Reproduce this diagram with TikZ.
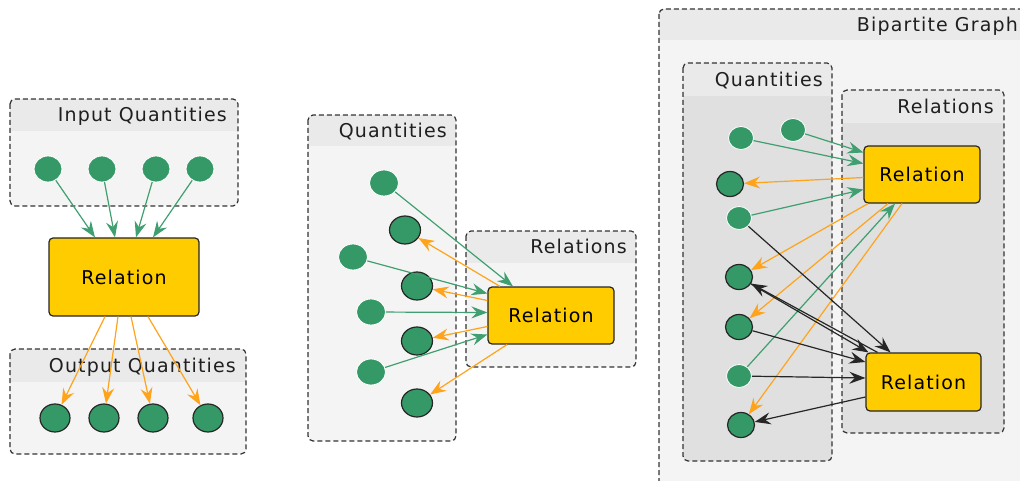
\documentclass[tikz,border=0pt]{standalone}
\usepackage{fontspec}
\setmainfont[LetterSpace=6]{DejaVu Sans}
\usetikzlibrary{arrows.meta,shapes.geometric}
\definecolor{qgreen}{HTML}{349966}
\definecolor{agreen}{HTML}{3F9F70}
\definecolor{aorange}{HTML}{FFA31A}
\definecolor{relfill}{HTML}{FFCC00}
\definecolor{outerbody}{HTML}{F4F4F4}
\definecolor{headerfill}{HTML}{EAEAEA}
\definecolor{innerbody}{HTML}{E0E0E0}
\tikzset{
  grpborder/.style={draw=black!80, line width=1.2pt, dash pattern=on 5pt off 3pt, rounded corners=5pt},
  grptitle/.style={anchor=base east, inner sep=0pt, text=black!88, font=\fontsize{19}{21}\selectfont},
  qin/.style={ellipse, fill=qgreen, draw=white, line width=0.8pt, inner sep=0pt, minimum width=28pt, minimum height=26pt},
  qout/.style={ellipse, fill=qgreen, draw=black!85, line width=1.2pt, inner sep=0pt, minimum width=30pt, minimum height=28pt},
  relbox/.style={rectangle, rounded corners=4pt, fill=relfill, draw=black!85, line width=1.2pt, font=\fontsize{19}{21}\selectfont, inner sep=0pt},
  arr/.style={-{Stealth[length=16pt,width=12pt,inset=5.5pt]}, line width=1.2pt},
  ga/.style={arr, draw=agreen},
  oa/.style={arr, draw=aorange},
  ba/.style={arr, draw=black!85},
}
\newcommand\grpbox[9]{%
  \begin{scope}
    \clip[rounded corners=5pt] (#2,#3) rectangle (#4,#5);
    \fill[#9] (#2,#3) rectangle (#4,#5);
    \fill[headerfill] (#2,#3) rectangle (#4,#6);
  \end{scope}
  \draw[grpborder] (#2,#3) rectangle (#4,#5);
  \node[grptitle] (#1) at ({#7},{(#3+#6)/2+7}) {#8};
}
\begin{document}
\begin{tikzpicture}[x=1pt,y=-1pt]
\useasboundingbox (0,0) rectangle (1020,481);
\clip (0,0) rectangle (1020,481);

% ---------- left group ----------
\grpbox{gin}{10}{99}{238}{206}{131}{227}{Input Quantities}{outerbody}
\grpbox{gout}{10}{349}{246}{454}{382}{236}{Output Quantities}{outerbody}
\node[qin] (i1) at (48,169) {};
\node[qin] (i2) at (102,169) {};
\node[qin] (i3) at (156,169) {};
\node[qin] (i4) at (200,169) {};
\node[relbox, minimum width=150pt, minimum height=78pt] (rl) at (124,277) {Relation};
\node[qout] (o1) at (55,418) {};
\node[qout] (o2) at (104,418) {};
\node[qout] (o3) at (153,418) {};
\node[qout] (o4) at (208,418) {};
\draw[ga] (i1) -- ([xshift=-29pt]rl.north);
\draw[ga] (i2) -- ([xshift=-9pt]rl.north);
\draw[ga] (i3) -- ([xshift=12pt]rl.north);
\draw[ga] (i4) -- ([xshift=29pt]rl.north);
\draw[oa] ([xshift=-19pt]rl.south) -- (o1);
\draw[oa] ([xshift=-6pt]rl.south) -- (o2);
\draw[oa] ([xshift=7pt]rl.south) -- (o3);
\draw[oa] ([xshift=24pt]rl.south) -- (o4);

% ---------- middle group ----------
\grpbox{gq}{308}{115}{456}{441}{146}{447}{Quantities}{outerbody}
\grpbox{gr}{466}{231}{636}{367}{263}{627}{Relations}{outerbody}
\node[relbox, minimum width=126pt, minimum height=57pt] (rm) at (551,315.5) {Relation};
\node[qin, minimum width=29pt] (mi1) at (384,183) {};
\node[qin, minimum width=29pt] (mi2) at (353,257) {};
\node[qin, minimum width=29pt] (mi3) at (371,312) {};
\node[qin, minimum width=29pt] (mi4) at (371,372) {};
\node[qout, minimum width=31pt] (mo1) at (405,230) {};
\node[qout, minimum width=31pt] (mo2) at (417,286) {};
\node[qout, minimum width=31pt] (mo3) at (417,341) {};
\node[qout, minimum width=31pt] (mo4) at (417,403) {};
\draw[ga] (mi1) -- ([xshift=-38pt]rm.north);
\draw[ga] (mi2) -- ([yshift=22pt]rm.west);
\draw[ga] (mi3) -- ([yshift=3pt]rm.west);
\draw[ga] (mi4) -- ([yshift=-19pt]rm.west);
\draw[oa] ([xshift=-51pt]rm.north) -- (mo1);
\draw[oa] ([yshift=15pt]rm.west) -- (mo2);
\draw[oa] ([yshift=-11pt]rm.west) -- (mo3);
\draw[oa] ([xshift=-44pt]rm.south) -- (mo4);

% ---------- right group ----------
\grpbox{gb}{659}{9}{1040}{500}{40}{1018}{Bipartite Graph}{outerbody}
\grpbox{gq2}{683}{63}{832}{461}{96}{823}{Quantities}{innerbody}
\grpbox{gr2}{842}{90}{1004}{433}{123}{994}{Relations}{innerbody}
\node[relbox, minimum width=116pt, minimum height=57pt] (r1) at (922,174.5) {Relation};
\node[relbox, minimum width=115pt, minimum height=58pt] (r2) at (923.5,382) {Relation};
\node[qin, minimum width=25pt, minimum height=23pt] (n1) at (741,138) {};
\node[qin, minimum width=25pt, minimum height=23pt] (n2) at (793,130) {};
\node[qin, minimum width=25pt, minimum height=23pt] (n3) at (739,218) {};
\node[qin, minimum width=25pt, minimum height=23pt] (n4) at (739,376) {};
\node[qout, minimum width=27pt, minimum height=25pt] (b1) at (730,184) {};
\node[qout, minimum width=27pt, minimum height=25pt] (b2) at (739,277) {};
\node[qout, minimum width=27pt, minimum height=25pt] (b3) at (739,327) {};
\node[qout, minimum width=27pt, minimum height=25pt] (b4) at (741,425) {};
\draw[ga] (n2) -- ([yshift=22pt]r1.west);
\draw[ga] (n1) -- ([yshift=11pt]r1.west);
\draw[oa] ([yshift=-3pt]r1.west) -- (b1);
\draw[ga] (n3) -- ([yshift=-15pt]r1.west);
\draw[oa] ([xshift=-54pt]r1.south) -- (b2);
\draw[oa] ([xshift=-34pt]r1.south) -- (b3);
\draw[ga] (n4) -- ([xshift=-27pt]r1.south);
\draw[oa] ([xshift=-20pt]r1.south) -- (b4);
\draw[ba] (n3) -- ([xshift=-33pt]r2.north);
\draw[ba] (b2) -- ([xshift=-55pt]r2.north);
\draw[ba] ([xshift=-46pt]r2.north) -- (b2);
\draw[ba] (b3) -- ([yshift=20pt]r2.west);
\draw[ba] (n4) -- ([yshift=4pt]r2.west);
\draw[ba] ([yshift=-15pt]r2.west) -- (b4);
\end{tikzpicture}
\end{document}
